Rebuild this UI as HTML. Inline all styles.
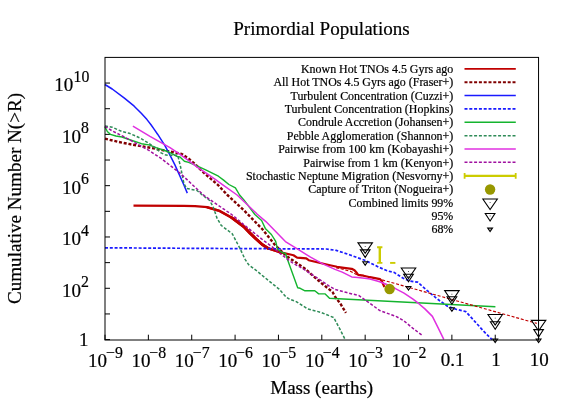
<!DOCTYPE html>
<html><head><meta charset="utf-8"><title>Primordial Populations</title>
<style>
html,body{margin:0;padding:0;background:#fff;}
body{width:573px;height:401px;overflow:hidden;font-family:"Liberation Serif",serif;}
svg{display:block;will-change:transform;}
text{font-family:"Liberation Serif",serif;fill:#000;stroke:#000;stroke-width:0.2px;}
</style></head><body>
<svg width="573" height="401" viewBox="0 0 573 401">
<rect width="573" height="401" fill="#fff"/>

<text x="321.5" y="34.65" font-size="19.08" text-anchor="middle">Primordial Populations</text>
<text x="321.7" y="394" font-size="19" text-anchor="middle">Mass (earths)</text>
<text transform="translate(21.1,198.5) rotate(-90)" font-size="19.08" text-anchor="middle">Cumulative Number N(&gt;R)</text>
<g stroke="#000" stroke-width="1" fill="none">
<path d="M105.00,339.60 h5"/>
<path d="M105.00,313.95 h5"/>
<path d="M105.00,288.29 h5"/>
<path d="M105.00,262.64 h5"/>
<path d="M105.00,236.98 h5"/>
<path d="M105.00,211.33 h5"/>
<path d="M105.00,185.67 h5"/>
<path d="M105.00,160.02 h5"/>
<path d="M105.00,134.36 h5"/>
<path d="M105.00,108.71 h5"/>
<path d="M105.00,83.05 h5"/>
<path d="M105.00,340.00 v-5.3"/>
<path d="M148.36,340.00 v-5.3"/>
<path d="M191.72,340.00 v-5.3"/>
<path d="M235.08,340.00 v-5.3"/>
<path d="M278.44,340.00 v-5.3"/>
<path d="M321.80,340.00 v-5.3"/>
<path d="M365.16,340.00 v-5.3"/>
<path d="M408.52,340.00 v-5.3"/>
<path d="M451.88,340.00 v-5.3"/>
<path d="M495.24,340.00 v-5.3"/>
<path d="M538.60,340.00 v-5.3"/>
</g>
<text x="88.6" y="346.00" font-size="19" text-anchor="end">1</text>
<text x="62.00" y="296.69" font-size="19">10</text><text x="81.00" y="287.09" font-size="15.8">2</text>
<text x="62.00" y="245.38" font-size="19">10</text><text x="81.00" y="235.78" font-size="15.8">4</text>
<text x="62.00" y="194.07" font-size="19">10</text><text x="81.00" y="184.47" font-size="15.8">6</text>
<text x="62.00" y="142.76" font-size="19">10</text><text x="81.00" y="133.16" font-size="15.8">8</text>
<text x="54.30" y="91.45" font-size="19">10</text><text x="73.50" y="81.85" font-size="15.8">10</text>
<text x="88.10" y="367.25" font-size="19">10</text><text x="106.00" y="357.70" font-size="15.8">−9</text>
<text x="131.46" y="367.25" font-size="19">10</text><text x="149.36" y="357.70" font-size="15.8">−8</text>
<text x="174.82" y="367.25" font-size="19">10</text><text x="192.72" y="357.70" font-size="15.8">−7</text>
<text x="218.18" y="367.25" font-size="19">10</text><text x="236.08" y="357.70" font-size="15.8">−6</text>
<text x="261.54" y="367.25" font-size="19">10</text><text x="279.44" y="357.70" font-size="15.8">−5</text>
<text x="304.90" y="367.25" font-size="19">10</text><text x="322.80" y="357.70" font-size="15.8">−4</text>
<text x="348.26" y="367.25" font-size="19">10</text><text x="366.16" y="357.70" font-size="15.8">−3</text>
<text x="391.62" y="367.25" font-size="19">10</text><text x="409.52" y="357.70" font-size="15.8">−2</text>
<text x="452.6" y="365.5" font-size="19" text-anchor="middle">0.1</text>
<text x="495.9" y="365.5" font-size="19" text-anchor="middle">1</text>
<text x="539.3" y="365.5" font-size="19" text-anchor="middle">10</text>
<g fill="none" stroke-linejoin="round" stroke-linecap="butt">
<polyline points="133.5,205.7 183.8,205.8 195.0,206.2 207.2,207.2 219.4,210.9 231.6,217.6 243.9,226.8 250.0,233.1 256.1,239.0 262.2,244.5 268.3,248.4 274.4,250.4 281.8,252.7 290.3,254.5 293.5,255.3 297.1,257.6 306.3,258.4 308.7,260.2 320.3,263.0 330.0,265.2 337.0,266.8 344.0,267.8 351.7,268.8 354.5,270.3 356.9,273.0 358.2,274.9 363.6,275.7 370.0,277.2 380.1,279.1 381.9,281.3 384.4,287.0" stroke="#c00000" stroke-width="2.2"/>
<polyline points="207.2,207.2 219.4,210.9 231.6,217.6 243.9,226.8 250.0,233.1 256.1,239.0 262.2,244.5 268.3,248.4 274.4,250.4 281.8,252.7" stroke="#c00000" stroke-width="2.5" stroke-linecap="round"/>
<polyline points="231.6,217.6 243.9,226.8 250.0,233.1 256.1,239.0 262.2,244.5 268.3,248.4" stroke="#c00000" stroke-width="3.0" stroke-linecap="round"/>
<polyline points="105.0,138.7 118.3,141.9 130.5,144.3 142.8,146.5 155.0,148.6 170.0,151.6 181.7,153.9 188.7,158.7 194.0,163.1 200.1,169.2 206.2,174.9 214.9,182.3 217.5,184.5 227.4,195.0 243.9,210.3 262.2,229.0 274.4,244.3 281.8,251.6 287.3,256.6 304.4,268.2 320.3,282.2 332.5,292.0 336.1,298.4 339.8,302.7 345.9,312.8" stroke="#800000" stroke-width="2.4" stroke-dasharray="3.0 1.8"/>
<polyline points="104.9,84.5 112.2,89.0 124.4,98.2 134.2,106.2 141.5,113.5 147.0,119.6 151.0,124.8 154.4,129.6 157.6,134.2 164.8,145.3 170.1,155.3 174.9,164.9 183.8,184.8 187.3,193.1" stroke="#1a1aff" stroke-width="1.5"/>
<polyline points="105.0,247.8 200.0,248.4 326.4,249.0 336.2,250.4 350.2,255.0 365.4,260.5 378.9,267.2 387.4,270.9 394.1,272.4 402.8,278.0 409.8,281.0 417.7,282.2 427.3,290.7 437.7,299.3 447.5,306.2 456.2,309.3 465.8,311.6 475.4,322.1 484.1,331.7 492.0,339.6" stroke="#1a1aff" stroke-width="1.7" stroke-dasharray="3.0 1.8"/>
<polyline points="104.9,126.6 107.3,131.5 110.4,134.3 115.9,136.0 122.0,137.0 130.5,140.0 141.5,143.7 148.9,144.9 156.2,147.7 166.0,151.0 170.0,152.7 176.8,156.4 180.0,157.0 184.4,161.3 188.7,162.4 197.5,166.1 206.2,170.1 218.4,176.2 223.6,180.1 228.9,184.5 235.4,187.9 239.6,195.0 243.9,199.9 254.9,214.5 261.6,220.5 265.3,228.4 271.4,234.5 275.7,241.3 277.5,249.2 281.8,252.3 285.5,253.5 287.3,259.0 297.7,287.7 300.2,288.3 305.0,290.8 314.8,290.8 318.7,293.9 325.2,293.9 329.5,298.2 338.5,298.8 495.4,306.8" stroke="#14b42e" stroke-width="1.4"/>
<polyline points="105.0,126.0 112.2,127.2 117.1,129.4 122.0,131.5 129.3,133.3 136.6,136.4 141.5,138.8 148.9,143.3 153.8,146.8 161.1,152.9 166.0,155.1 170.0,155.3 177.7,155.1 179.4,162.0 180.6,167.0 183.8,183.0 186.4,188.4 197.0,190.5 202.3,195.0 209.7,200.5 213.3,207.2 217.0,218.2 221.3,225.5 232.3,233.8 233.2,235.5 235.3,239.6 239.8,248.1 245.1,259.4 248.6,264.7 255.5,269.9 268.6,280.7 279.1,289.1 286.1,297.0 289.6,299.2 296.2,301.6 307.5,308.8 320.6,312.3 333.7,317.5 339.8,328.9 345.0,339.3" stroke="#2e8b57" stroke-width="1.5" stroke-dasharray="3.0 1.8"/>
<polyline points="132.9,126.1 150.0,136.3 170.0,147.6 180.0,154.3 188.7,160.7 197.5,167.3 206.2,173.1 214.9,179.2 222.8,184.9 237.1,195.0 250.0,207.2 257.3,214.2 265.9,221.6 285.4,241.6 298.9,249.8 310.5,257.2 322.8,263.9 335.0,269.4 342.2,272.1 351.7,276.9 358.0,277.4 366.6,278.4 370.0,279.0 378.9,281.5 385.0,283.7 395.0,288.3 404.0,293.2 413.0,299.2 418.9,303.7 424.9,308.9 432.4,316.4 438.4,328.4 443.8,339.4" stroke="#e030e0" stroke-width="1.5"/>
<polyline points="105.0,126.3 112.2,130.9 124.4,137.0 136.6,143.7 148.9,150.4 161.1,158.4 169.8,165.2 180.0,173.1 192.2,184.5 204.2,195.6 231.6,214.5 250.0,229.7 262.2,239.4 274.4,248.6 280.0,253.5 292.2,262.7 304.4,269.7 320.3,280.0 328.9,285.9 335.0,289.5 346.8,292.6 359.0,295.6 367.5,301.6 379.7,310.5 396.5,316.6 404.0,320.9 413.0,328.4 421.9,335.1" stroke="#a010a0" stroke-width="1.5" stroke-dasharray="3.0 1.8"/>
<polyline points="336.0,267.8 341.0,268.8 350.8,271.4 356.3,274.4 358.7,275.2 366.6,276.6 380.1,279.3 536.8,323.4" stroke="#c00000" stroke-width="1.15" stroke-dasharray="3.0 1.8"/>
</g>
<g stroke="#cccc00" fill="none"><path d="M379.8,247.2 V262.9" stroke-width="2.4"/><path d="M377.1,247.2 h5.3 M377.1,262.9 h5.3" stroke-width="1.9"/><path d="M390.1,262.9 h5.3" stroke-width="1.9"/></g>
<circle cx="389.6" cy="289.0" r="5.2" fill="#989800"/>
<path d="M357.94,242.86 L372.46,242.86 L365.20,253.42 Z" fill="none" stroke="#000" stroke-width="1.08" stroke-linejoin="miter"/><rect x="364.80" y="246.00" width="0.8" height="0.8" fill="#000"/>
<path d="M360.36,249.89 L370.04,249.89 L365.20,257.39 Z" fill="none" stroke="#000" stroke-width="1.08" stroke-linejoin="miter"/><rect x="364.80" y="252.00" width="0.8" height="0.8" fill="#000"/>
<path d="M362.78,261.72 L367.62,261.72 L365.20,265.24 Z" fill="none" stroke="#000" stroke-width="1.08" stroke-linejoin="miter"/><rect x="364.80" y="262.50" width="0.8" height="0.8" fill="#000"/>
<path d="M401.24,267.96 L415.76,267.96 L408.50,278.52 Z" fill="none" stroke="#000" stroke-width="1.08" stroke-linejoin="miter"/><rect x="408.10" y="271.10" width="0.8" height="0.8" fill="#000"/>
<path d="M403.66,274.29 L413.34,274.29 L408.50,281.79 Z" fill="none" stroke="#000" stroke-width="1.08" stroke-linejoin="miter"/><rect x="408.10" y="276.40" width="0.8" height="0.8" fill="#000"/>
<path d="M406.08,286.52 L410.92,286.52 L408.50,290.04 Z" fill="none" stroke="#000" stroke-width="1.08" stroke-linejoin="miter"/><rect x="408.10" y="287.30" width="0.8" height="0.8" fill="#000"/>
<path d="M444.64,290.66 L459.16,290.66 L451.90,301.22 Z" fill="none" stroke="#000" stroke-width="1.08" stroke-linejoin="miter"/><rect x="451.50" y="293.80" width="0.8" height="0.8" fill="#000"/>
<path d="M447.06,296.69 L456.74,296.69 L451.90,304.19 Z" fill="none" stroke="#000" stroke-width="1.08" stroke-linejoin="miter"/><rect x="451.50" y="298.80" width="0.8" height="0.8" fill="#000"/>
<path d="M449.48,307.72 L454.32,307.72 L451.90,311.24 Z" fill="none" stroke="#000" stroke-width="1.08" stroke-linejoin="miter"/><rect x="451.50" y="308.50" width="0.8" height="0.8" fill="#000"/>
<path d="M487.94,314.56 L502.46,314.56 L495.20,325.12 Z" fill="none" stroke="#000" stroke-width="1.08" stroke-linejoin="miter"/><rect x="494.80" y="317.70" width="0.8" height="0.8" fill="#000"/>
<path d="M490.36,321.79 L500.04,321.79 L495.20,329.29 Z" fill="none" stroke="#000" stroke-width="1.08" stroke-linejoin="miter"/><rect x="494.80" y="323.90" width="0.8" height="0.8" fill="#000"/>
<path d="M492.78,339.02 L497.62,339.02 L495.20,342.54 Z" fill="none" stroke="#000" stroke-width="1.08" stroke-linejoin="miter"/><rect x="494.80" y="339.80" width="0.8" height="0.8" fill="#000"/>
<path d="M531.34,320.36 L545.86,320.36 L538.60,330.92 Z" fill="none" stroke="#000" stroke-width="1.08" stroke-linejoin="miter"/><rect x="538.20" y="323.50" width="0.8" height="0.8" fill="#000"/>
<path d="M533.76,329.59 L543.44,329.59 L538.60,337.09 Z" fill="none" stroke="#000" stroke-width="1.08" stroke-linejoin="miter"/><rect x="538.20" y="331.70" width="0.8" height="0.8" fill="#000"/>
<path d="M536.18,339.02 L541.02,339.02 L538.60,342.54 Z" fill="none" stroke="#000" stroke-width="1.08" stroke-linejoin="miter"/><rect x="538.20" y="339.80" width="0.8" height="0.8" fill="#000"/>
<rect x="105.00" y="57.40" width="433.55" height="282.60" fill="none" stroke="#000" stroke-width="1"/>
<text x="453.3" y="73.05" font-size="11.95" text-anchor="end">Known Hot TNOs 4.5 Gyrs ago</text>
<text x="453.3" y="86.40" font-size="11.95" text-anchor="end">All Hot TNOs 4.5 Gyrs ago (Fraser+)</text>
<text x="453.3" y="99.75" font-size="11.95" text-anchor="end">Turbulent Concentration (Cuzzi+)</text>
<text x="453.3" y="113.10" font-size="11.95" text-anchor="end">Turbulent Concentration (Hopkins)</text>
<text x="453.3" y="126.45" font-size="11.95" text-anchor="end">Condrule Accretion (Johansen+)</text>
<text x="453.3" y="139.80" font-size="11.95" text-anchor="end">Pebble Agglomeration (Shannon+)</text>
<text x="453.3" y="153.15" font-size="11.95" text-anchor="end">Pairwise from 100 km (Kobayashi+)</text>
<text x="453.3" y="166.50" font-size="11.95" text-anchor="end">Pairwise from 1 km (Kenyon+)</text>
<text x="453.3" y="179.85" font-size="11.95" text-anchor="end">Stochastic Neptune Migration (Nesvorny+)</text>
<text x="453.3" y="193.20" font-size="11.95" text-anchor="end">Capture of Triton (Nogueira+)</text>
<text x="453.3" y="206.55" font-size="11.95" text-anchor="end">Combined limits 99%</text>
<text x="453.3" y="219.90" font-size="11.95" text-anchor="end">95%</text>
<text x="453.3" y="233.25" font-size="11.95" text-anchor="end">68%</text>
<g fill="none">
<path d="M464.5,68.90 H515.8" stroke="#c00000" stroke-width="1.8"/>
<path d="M464.5,82.25 H515.8" stroke="#800000" stroke-width="2" stroke-dasharray="3.0 1.8"/>
<path d="M464.5,95.60 H515.8" stroke="#1a1aff" stroke-width="1.5"/>
<path d="M464.5,108.95 H515.8" stroke="#1a1aff" stroke-width="1.7" stroke-dasharray="3.0 1.8"/>
<path d="M464.5,122.30 H515.8" stroke="#14b42e" stroke-width="1.4"/>
<path d="M464.5,135.65 H515.8" stroke="#2e8b57" stroke-width="1.5" stroke-dasharray="3.0 1.8"/>
<path d="M464.5,149.00 H515.8" stroke="#e030e0" stroke-width="1.5"/>
<path d="M464.5,162.35 H515.8" stroke="#a010a0" stroke-width="1.5" stroke-dasharray="3.0 1.8"/>
</g>
<g stroke="#cccc00" stroke-width="2.1" fill="none"><path d="M464.5,175.90 H515.8"/><path d="M464.6,173.10 v5.6 M515.7,173.10 v5.6" stroke-width="1.8"/></g>
<circle cx="490.1" cy="189.45" r="5.2" fill="#989800"/>
<path d="M482.84,199.06 L497.36,199.06 L490.10,209.62 Z" fill="none" stroke="#000" stroke-width="1.08" stroke-linejoin="miter"/><rect x="489.70" y="202.20" width="0.8" height="0.8" fill="#000"/>
<path d="M485.26,213.44 L494.94,213.44 L490.10,220.94 Z" fill="none" stroke="#000" stroke-width="1.08" stroke-linejoin="miter"/><rect x="489.70" y="215.55" width="0.8" height="0.8" fill="#000"/>
<path d="M487.68,228.12 L492.52,228.12 L490.10,231.64 Z" fill="none" stroke="#000" stroke-width="1.08" stroke-linejoin="miter"/><rect x="489.70" y="228.90" width="0.8" height="0.8" fill="#000"/>
</svg></body></html>
